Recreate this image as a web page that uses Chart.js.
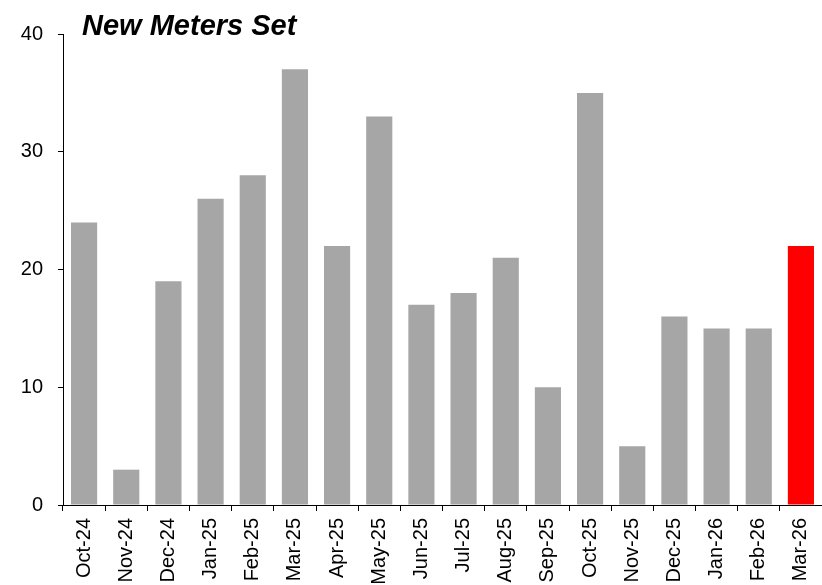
<!DOCTYPE html>
<html>
<head>
<meta charset="utf-8">
<script src="https://cdn.jsdelivr.net/npm/chart.js@4/dist/chart.umd.min.js"></script>
<style>
  html, body { margin: 0; padding: 0; background: #fff; }
  #wrap { width: 822px; height: 585px; position: relative; }
</style>
</head>
<body>
<div id="wrap"><canvas id="metersChart"></canvas></div>
<script>
// Data
const months = ['Oct-24', 'Nov-24', 'Dec-24', 'Jan-25', 'Feb-25', 'Mar-25', 'Apr-25', 'May-25', 'Jun-25',
  'Jul-25', 'Aug-25', 'Sep-25', 'Oct-25', 'Nov-25', 'Dec-25', 'Jan-26', 'Feb-26', 'Mar-26'];
const metersSet = [24, 3, 19, 26, 28, 37, 22, 33, 17, 18, 21, 10, 35, 5, 16, 15, 15, 22];
const yTicks = [0, 10, 20, 30, 40];

const GRAY = '#a6a6a6';
const RED = '#ff0000';
const FONT = "'Liberation Sans', Arial, sans-serif";

// last bar (current month) highlighted in red
const barColors = metersSet.map((v, i) => i === metersSet.length - 1 ? RED : GRAY);

// title drawn in the top-left, overlapping the plot top
const titlePlugin = {
  id: 'cornerTitle',
  afterDraw(chart) {
    const ctx = chart.ctx;
    ctx.save();
    ctx.font = "italic bold 29px " + FONT;
    ctx.fillStyle = '#000';
    ctx.textAlign = 'left';
    ctx.textBaseline = 'alphabetic';
    ctx.fillText('New Meters Set', 82, 35);
    ctx.restore();
  }
};

const ctx = document.getElementById('metersChart').getContext('2d');
new Chart(ctx, {
  type: 'bar',
  data: {
    labels: months,
    datasets: [{
      label: 'New Meters Set',
      data: metersSet,
      backgroundColor: barColors,
      borderWidth: 0,
      barPercentage: 0.62,
      categoryPercentage: 1.0,
    }]
  },
  options: {
    responsive: true, maintainAspectRatio: false,
    animation: false,
    layout: { padding: { top: 34, right: 0, left: 0, bottom: 0 } },
    plugins: {
      legend: { display: false },
      tooltip: { enabled: false }
    },
    scales: {
      x: {
        offset: true,
        border: { display: true, color: '#000', width: 1 },
        grid: { display: true, drawOnChartArea: false, drawTicks: true, tickLength: 6, color: '#000', offset: true },
        ticks: {
          color: '#000', font: { family: FONT, size: 20 },
          minRotation: 90, maxRotation: 90, autoSkip: false, padding: 7
        },
        afterFit(scale) {
          scale.height = 80;
          scale.paddingLeft = 0;
          scale.paddingRight = 0;
        }
      },
      y: {
        min: 0, max: 40,
        border: { display: true, color: '#000', width: 1 },
        grid: { display: true, drawOnChartArea: false, drawTicks: true, tickLength: 5, color: '#000' },
        afterBuildTicks(scale) { scale.ticks = yTicks.map(v => ({ value: v })); },
        ticks: { color: '#000', font: { family: FONT, size: 20 }, padding: 15 },
        afterFit(scale) { scale.width = 63; }
      }
    }
  },
  plugins: [titlePlugin]
});
</script>
</body>
</html>
